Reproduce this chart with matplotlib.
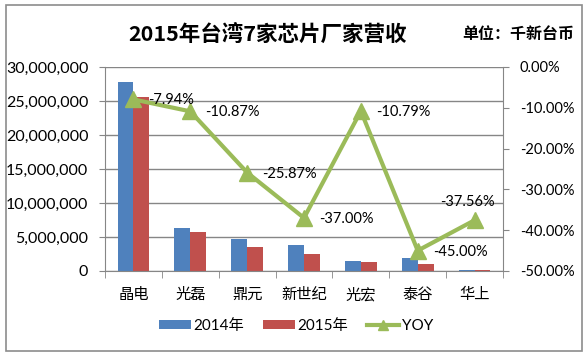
import numpy as np
import matplotlib.pyplot as plt
from matplotlib.ticker import FuncFormatter, FixedLocator
from matplotlib.patches import Rectangle

plt.rcParams['font.family'] = ['Lato', 'Noto Sans CJK SC', 'DejaVu Sans']

companies = ["晶电", "光磊", "鼎元", "新世纪", "光宏", "泰谷", "华上"]
rev_2014 = [27800000, 6370000, 4700000, 3880000, 1470000, 1960000, 150000]
rev_2015 = [25600000, 5680000, 3480000, 2450000, 1310000, 1080000, 95000]
yoy = [-7.94, -10.87, -25.87, -37.00, -10.79, -45.00, -37.56]
yoy_labels = ["-7.94%", "-10.87%", "-25.87%", "-37.00%", "-10.79%", "-45.00%", "-37.56%"]

blue = "#4F81BD"
red = "#C0504D"
green = "#9BBB59"
grid_c = "#868686"

fig = plt.figure(figsize=(5.86, 3.56), dpi=100)
fig.patches.append(Rectangle((6 / 586, 5 / 356), 576 / 586, 346 / 356, transform=fig.transFigure,
                             fill=False, edgecolor="#8c8c8c", linewidth=1.2))

ax = fig.add_axes([105 / 586, 1 - 271 / 356, 398 / 586, 204 / 356])
x = np.arange(len(companies))
w = 0.28
ax.bar(x - w / 2, rev_2014, w, color=blue, label="2014年", zorder=2)
ax.bar(x + w / 2, rev_2015, w, color=red, label="2015年", zorder=2)
ax.set_xlim(-0.5, len(companies) - 0.5)
ax.set_ylim(0, 30000000)
ax.set_yticks(np.arange(0, 30000001, 5000000))
ax.yaxis.set_major_formatter(FuncFormatter(lambda v, p: f"{int(v):,}"))
ax.grid(axis="y", color=grid_c, linewidth=1, zorder=0)
ax.set_xticks(x)
ax.set_xticklabels(companies, fontsize=11, family=['Noto Sans CJK SC'])
ax.xaxis.set_minor_locator(FixedLocator(np.arange(-0.5, len(companies), 1.0)))
ax.tick_params(axis="x", which="major", length=0, pad=11)
ax.tick_params(axis="x", which="minor", length=5, color=grid_c)
ax.tick_params(axis="y", length=4, color=grid_c, labelsize=11.5, pad=8)
for s in ["top", "right"]:
    ax.spines[s].set_visible(False)
for s in ["left", "bottom"]:
    ax.spines[s].set_color(grid_c)

ax2 = ax.twinx()
ln, = ax2.plot(x, yoy, color=green, linewidth=3, marker="^", markersize=11, label="YOY", zorder=3)
ax2.set_ylim(-50, 0)
ax2.set_yticks(np.arange(-50, 1, 10))
ax2.yaxis.set_major_formatter(FuncFormatter(lambda v, p: f"{v:.2f}%"))
ax2.tick_params(axis="y", length=4, color=grid_c, labelsize=10.5, pad=8)
for s in ["top", "left", "bottom"]:
    ax2.spines[s].set_visible(False)
ax2.spines["right"].set_color(grid_c)

for i, (v, t) in enumerate(zip(yoy, yoy_labels)):
    if i == len(yoy) - 1:
        ax2.annotate(t, (x[i], v), xytext=(-7, 18), textcoords="offset pixels",
                     ha="center", va="center", fontsize=10.5)
    else:
        ax2.annotate(t, (x[i], v), xytext=(15, -1), textcoords="offset pixels",
                     ha="left", va="center", fontsize=10.5)

fig.text(268 / 586, 1 - 34 / 356, "2015年台湾7家芯片厂家营收", ha="center", va="center",
         fontsize=15.5, fontweight="bold", family=['Noto Sans CJK SC'])
fig.text(518 / 586, 1 - 34 / 356, "单位：千新台币", ha="center", va="center",
         fontsize=11.5, fontweight="bold", family=['Noto Sans CJK SC'])

h1, l1 = ax.get_legend_handles_labels()
fig.legend(h1 + [ln], l1 + ["YOY"], loc="center", bbox_to_anchor=(296 / 586, 1 - 326 / 356),
           ncol=3, frameon=False, fontsize=11, handlelength=2.1, handleheight=0.6,
           columnspacing=1.25, handletextpad=0.15, markerscale=0.7)

fig.savefig("out.png", dpi=100)
